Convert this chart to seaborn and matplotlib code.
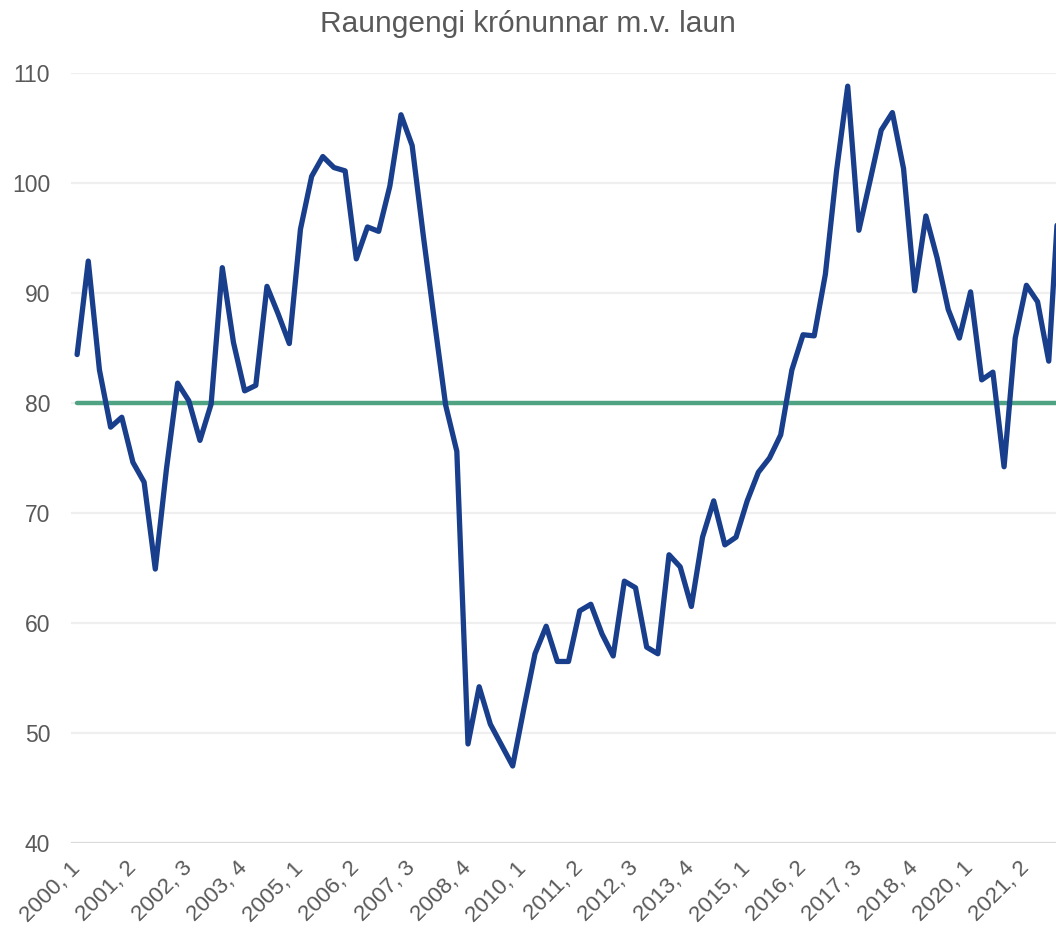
import numpy as np
import pandas as pd
import matplotlib
matplotlib.use("Agg")
import matplotlib.pyplot as plt
import seaborn as sns

# Raungengi krónunnar m.v. laun, ársfjórðungar 2000,1 - 2022,1
years = [2000 + i // 4 for i in range(89)]
quarters = [i % 4 + 1 for i in range(89)]
raungengi = [
    84.4, 92.9, 83.0, 77.8, 78.7, 74.6, 72.8, 64.9, 74.0, 81.8,
    80.2, 76.6, 79.9, 92.3, 85.5, 81.1, 81.6, 90.6, 88.1, 85.4,
    95.8, 100.6, 102.4, 101.4, 101.1, 93.1, 96.0, 95.6, 99.7, 106.2,
    103.4, 95.2, 87.4, 79.8, 75.6, 49.0, 54.2, 50.8, 48.9, 47.0,
    52.2, 57.2, 59.7, 56.5, 56.5, 61.1, 61.7, 59.0, 57.0, 63.8,
    63.2, 57.8, 57.2, 66.2, 65.1, 61.5, 67.8, 71.1, 67.1, 67.8,
    71.1, 73.7, 75.0, 77.1, 83.0, 86.2, 86.1, 91.7, 101.1, 108.8,
    95.7, 100.2, 104.8, 106.4, 101.3, 90.2, 97.0, 93.2, 88.5, 85.9,
    90.1, 82.1, 82.8, 74.2, 85.9, 90.7, 89.2, 83.8, 100.5,
]
medaltal = [80.0] * len(raungengi)

yticks = [40, 50, 60, 70, 80, 90, 100, 110]

df = pd.DataFrame({
    "t": np.arange(len(raungengi)),
    "raungengi": raungengi,
    "medaltal": medaltal,
    "label": [f"{y}, {q}" for y, q in zip(years, quarters)],
})

sns.set_theme(style="white")
plt.rcParams["font.family"] = ["Liberation Sans", "DejaVu Sans"]

fig = plt.figure(figsize=(10.56, 9.33), dpi=100)
ax = fig.add_axes([0.0672, 0.0965, 0.9328, 0.8253])

grey = "#595959"
for v in yticks:
    ax.axhline(v, color="#d9d9d9" if v == 40 else "#efefef", lw=1.6, zorder=0)

sns.lineplot(data=df, x="t", y="medaltal", ax=ax, color="#4fa383", lw=3.2)
sns.lineplot(data=df, x="t", y="raungengi", ax=ax, color="#183e8c", lw=3.8)

ax.set_xlim(-0.55, 87.65)
ax.set_ylim(40, 110)
ax.set_yticks(yticks)
ax.set_yticklabels([str(v) for v in yticks], color=grey, fontsize=16.5)

tick_idx = df["t"][::5]
ax.set_xticks(tick_idx)
ax.set_xticklabels(df["label"][::5], rotation=45, ha="right", va="center",
                   rotation_mode="anchor", color=grey, fontsize=16.2)
ax.tick_params(axis="both", length=0)
ax.tick_params(axis="x", pad=16)
ax.tick_params(axis="y", pad=15)

ax.set_xlabel("")
ax.set_ylabel("")
sns.despine(ax=ax, left=True, bottom=True)

fig.suptitle("Raungengi krónunnar m.v. laun", x=0.5, y=0.989,
             va="top", fontsize=21.5, color=grey)

fig.savefig("out.png", dpi=100)
